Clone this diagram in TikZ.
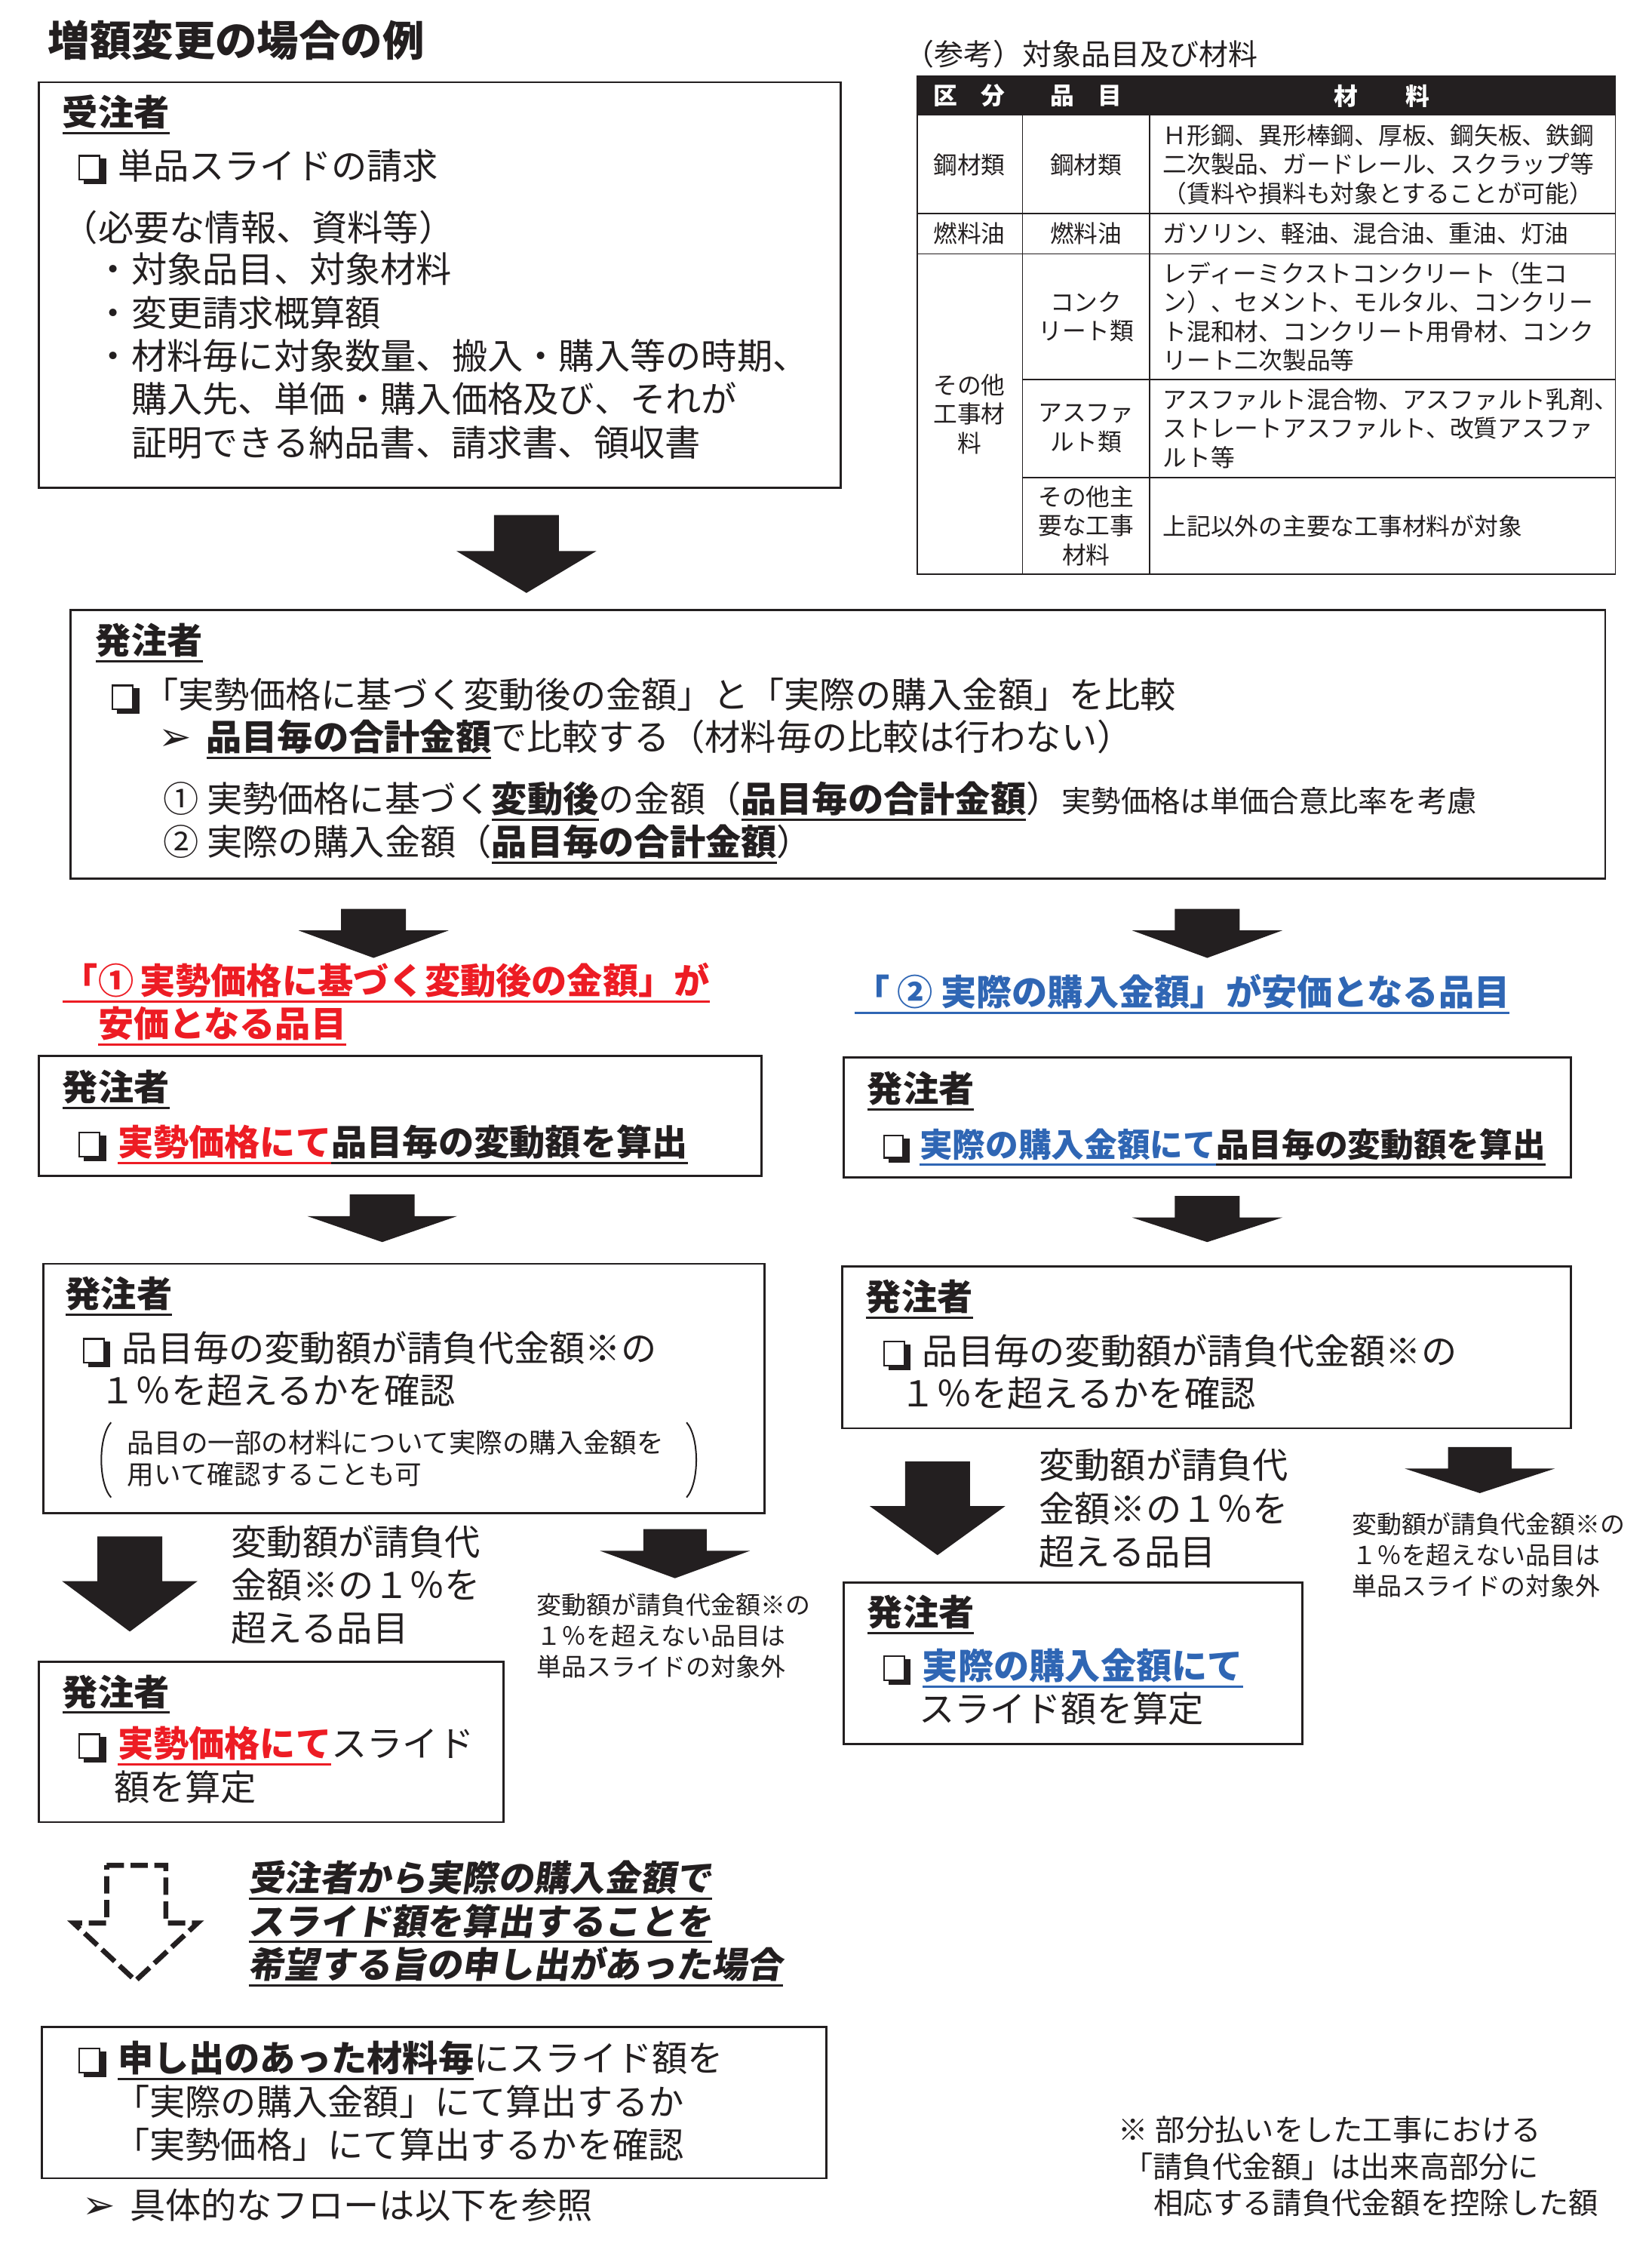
\documentclass[tikz,border=0pt]{standalone}
\usepackage{fontspec}
\setmainfont{Noto Sans CJK JP}
\newfontfamily\symfnt{DejaVu Sans}
\newfontfamily\jpslant[FakeSlant=0.15]{Noto Sans CJK JP}
\usetikzlibrary{fit,calc}

\definecolor{ink}{RGB}{35,31,32}
\definecolor{slidered}{RGB}{237,28,36}
\definecolor{slideblue}{RGB}{47,102,180}

\newcommand\fbody{\fontsize{14.06}{17.07}\selectfont}
\newcommand\ftitle{\fontsize{16.5}{20}\selectfont}
\newcommand\fcap{\fontsize{11.6}{14}\selectfont}
\newcommand\ftab{\fontsize{9.45}{11.4}\selectfont}
\newcommand\fsmall{\fontsize{9.8}{12.24}\selectfont}
\newcommand\fpart{\fontsize{10.6}{12.5}\selectfont}
\newcommand\fnote{\fontsize{11.7}{14.5}\selectfont}
\newcommand\undl[1]{\setbox0\hbox{#1}\rlap{\rule[-3.4pt]{\wd0}{0.9pt}}\box0}
% shadowed check box
\newcommand\chk{\makebox[0.88em][l]{\textcolor{ink}{\rlap{\hspace{2.2pt}\raisebox{-2.2pt}{\rule{\dimexpr0.52em+1.4pt}{\dimexpr0.62em+1.4pt}}}}%
  {\setlength\fboxsep{0pt}\setlength\fboxrule{0.7pt}\fcolorbox{ink}{white}{\rule{0pt}{0.62em}\hspace{0.52em}}}}}
\newcommand\pointer{{\symfnt\bfseries\fontsize{15.5}{17}\selectfont ➢}}
\newcommand\blockarrow[6]{\fill[arrowfill] ({#1-#3},#2) -- ({#1+#3},#2) -- ({#1+#3},#4)
  -- ({#1+#5},#4) -- (#1,#6) -- ({#1-#5},#4) -- ({#1-#3},#4) -- cycle;}

\begin{document}
\begin{tikzpicture}[
  x=0.02cm, y=-0.02cm,
  % multi-line nodes sit on the baseline of their last line
  txt/.style={anchor=base west, inner sep=0pt, align=left, font=\fbody, text=ink},
  head/.style={txt, font=\fbody\bfseries},
  box/.style={draw=ink, line width=0.8pt, inner sep=0pt, fit={#1}},
  arrowfill/.style={fill=ink},
  tabline/.style={draw=ink, line width=0.5pt},
  thead/.style={inner sep=0pt, font=\ftab\bfseries, text=white},
  tcell/.style={inner sep=0pt, align=center, font=\ftab, text=ink},
  tmat/.style={inner sep=0pt, anchor=west, align=left, font=\ftab, text=ink},
]
  \useasboundingbox (0,0) rectangle (1145,1568);

  % Title
  \node[txt, font=\ftitle\bfseries] (title) at (33,39) {増額変更の場合の例};

  % Contractor request
  \node[box={(27,57)(583,338)}] (jbox) {};
  \node[head] (jhead) at (43,87) {\undl{受注者}};
  \node[txt] (jreq) at (54,124) {\chk\ 単品スライドの請求};
  \node[txt] (jinfo) at (43,167) {（必要な情報、資料等）};
  \node[txt] (jlist) at (66,316) {・対象品目、対象材料\\・変更請求概算額\\
    ・材料毎に対象数量、搬入・購入等の時期、\\　購入先、単価・購入価格及び、それが\\
    　証明できる納品書、請求書、領収書};

  % Reference table
  \node[txt, font=\fcap] (tabcap) at (627,45) {（参考）対象品目及び材料};
  \fill[ink] (636,53) rectangle (1120,80);
  \draw[tabline] (636,53) rectangle (1120,398);
  \draw[tabline] (709,80) -- (709,398) (797,80) -- (797,398);
  \draw[tabline] (636,148) -- (1120,148) (636,176) -- (1120,176)
    (709,263) -- (1120,263) (709,331) -- (1120,331);
  \node[thead] (hkubun) at (672,66.5) {区　分};
  \node[thead] (hhinmoku) at (753,66.5) {品　目};
  \node[thead] (hzairyo) at (958,66.5) {材　　料};
  \node[tcell] (steel1) at (672,114) {鋼材類};
  \node[tcell] (steel2) at (753,114) {鋼材類};
  \node[tmat] (steel3) at (806,114) {Ｈ形鋼、異形棒鋼、厚板、鋼矢板、鉄鋼\\
    二次製品、ガードレール、スクラップ等\\（賃料や損料も対象とすることが可能）};
  \node[tcell] (fuel1) at (672,162) {燃料油};
  \node[tcell] (fuel2) at (753,162) {燃料油};
  \node[tmat] (fuel3) at (806,162) {ガソリン、軽油、混合油、重油、灯油};
  \node[tcell] (other1) at (672,287) {その他\\工事材\\料};
  \node[tcell] (conc2) at (753,219.5) {コンク\\リート類};
  \node[tmat] (conc3) at (806,219.5) {レディーミクストコンクリート（生コ\\
    ン）、セメント、モルタル、コンクリー\\ト混和材、コンクリート用骨材、コンク\\リート二次製品等};
  \node[tcell] (asph2) at (753,297) {アスファ\\ルト類};
  \node[tmat] (asph3) at (806,297) {アスファルト混合物、アスファルト乳剤、\\
    ストレートアスファルト、改質アスファ\\ルト等};
  \node[tcell] (main2) at (753,364.5) {その他主\\要な工事\\材料};
  \node[tmat] (main3) at (806,364.5) {上記以外の主要な工事材料が対象};

  \blockarrow{365}{357}{22.5}{382}{48.5}{411}

  % Client compares
  \node[box={(49,423)(1113,609)}] (hbox) {};
  \node[head] (hhead) at (66,453) {\undl{発注者}};
  \node[txt] (hcmp) at (77,491) {\chk「実勢価格に基づく変動後の金額」と「実際の購入金額」を比較};
  \node[txt] (hsum) at (110,520) {\pointer\hspace{0.4em}\textbf{\undl{品目毎の合計金額}}で比較する（材料毎の比較は行わない）};
  \node[txt] (hone) at (113,563) {①\hspace{3pt}実勢価格に基づく\textbf{\undl{変動後}}の金額（\textbf{\undl{品目毎の合計金額}}）{\fnote 実勢価格は単価合意比率を考慮}};
  \node[txt] (htwo) at (113,593) {②\hspace{3pt}実際の購入金額（\textbf{\undl{品目毎の合計金額}}）};

  \blockarrow{259}{630}{22.5}{645}{52}{664}
  \blockarrow{837}{630}{22.5}{645}{52}{664}

  % Two branches
  \node[txt, font=\fbody\bfseries, text=slidered] (redlbl) at (43,719)
    {\undl{「①\,実勢価格に基づく変動後の金額」が}\\　\undl{安価となる品目}};
  \node[txt, font=\fbody\bfseries, text=slideblue] (bluelbl) at (592,697)
    {\undl{「\hspace{3pt}②\hspace{3pt}実際の購入金額」が安価となる品目}};

  \node[box={(27,732)(528,815)}] (lbox1) {};
  \node[head] (lhead1) at (43,763) {\undl{発注者}};
  \node[txt] (lcalc) at (54,801) {\chk\ \textbf{\textcolor{slidered}{\undl{実勢価格にて}}\undl{品目毎の変動額を算出}}};
  \node[box={(585,733)(1089,816)}] (rbox1) {};
  \node[head] (rhead1) at (601,764) {\undl{発注者}};
  \node[txt, font=\fontsize{13}{16}\selectfont] (rcalc) at (612,802) {\chk\ \textbf{\textcolor{slideblue}{\undl{実際の購入金額にて}}\undl{品目毎の変動額を算出}}};

  \blockarrow{265}{828}{22.5}{843}{52}{861}
  \blockarrow{837}{829}{22.5}{844}{52}{861}

  \node[box={(30,876)(530,1049)}] (lbox2) {};
  \node[head] (lhead2) at (45,906) {\undl{発注者}};
  \node[txt] (lcheck) at (57,944) {\chk\ 品目毎の変動額が請負代金額※の};
  \node[txt] (lpct) at (69,973) {１％を超えるかを確認};
  \node[txt, font=\fpart] (lpart) at (88,1029) {品目の一部の材料について実際の購入金額を\\用いて確認することも可};
  \draw[ink, line width=0.6pt] (77,986) .. controls (68,996) and (68,1028) .. (77,1038);
  \draw[ink, line width=0.6pt] (476,986) .. controls (485,996) and (485,1028) .. (476,1038);
  \node[box={(584,878)(1089,990)}] (rbox2) {};
  \node[head] (rhead2) at (600,908) {\undl{発注者}};
  \node[txt] (rcheck) at (612,946) {\chk\ 品目毎の変動額が請負代金額※の};
  \node[txt] (rpct) at (624,975) {１％を超えるかを確認};

  % Over / not over 1%
  \blockarrow{90}{1065}{22.5}{1096}{47}{1131}
  \node[txt] (lover) at (160,1138) {変動額が請負代\\金額※の１％を\\超える品目};
  \blockarrow{468}{1060}{22}{1075}{52}{1094}
  \node[txt, font=\fsmall] (lunder) at (372,1162) {変動額が請負代金額※の\\１％を超えない品目は\\単品スライドの対象外};
  \blockarrow{650}{1013}{22.5}{1044}{47}{1078}
  \node[txt] (rover) at (720,1085) {変動額が請負代\\金額※の１％を\\超える品目};
  \blockarrow{1026}{1003}{22}{1018}{52}{1035}
  \node[txt, font=\fsmall] (runder) at (937,1106) {変動額が請負代金額※の\\１％を超えない品目は\\単品スライドの対象外};

  \node[box={(27,1152)(349,1263)}] (lbox3) {};
  \node[head] (lhead3) at (43,1182) {\undl{発注者}};
  \node[txt] (lslide) at (54,1248) {\chk\ \textbf{\textcolor{slidered}{\undl{実勢価格にて}}}スライド\\　額を算定};
  \node[box={(585,1097)(903,1209)}] (rbox3) {};
  \node[head] (rhead3) at (601,1127) {\undl{発注者}};
  \node[txt] (rslide) at (612,1194) {\chk\ \textbf{\textcolor{slideblue}{\undl{実際の購入金額にて}}}\\　スライド額を算定};

  % Request from contractor
  \draw[ink, line width=2pt, dash pattern=on 0.24cm off 0.09cm]
    (74,1293) -- (115,1293) -- (115,1333) -- (137,1333) -- (94,1373)
    -- (51,1333) -- (74,1333) -- cycle;
  \node[txt, font=\fbody\jpslant\bfseries] (wish) at (172,1371)
    {\undl{受注者から実際の購入金額で}\\\undl{スライド額を算出することを}\\\undl{希望する旨の申し出があった場合}};

  \node[box={(29,1405)(573,1510)}] (reqbox) {};
  \node[txt] (req) at (54,1496) {\chk\ \textbf{\undl{申し出のあった材料毎}}にスライド額を\\
    　「実際の購入金額」にて算出するか\\　「実勢価格」にて算出するかを確認};
  \node[txt] (flow) at (57,1538) {\pointer\hspace{0.4em}具体的なフローは以下を参照};

  % Footnote
  \node[txt, font=\fnote] (footnote) at (775,1535) {※\hspace{3pt}部分払いをした工事における\\
    \hspace{2pt}「請負代金額」は出来高部分に\\\hspace{14pt}相応する請負代金額を控除した額};
\end{tikzpicture}
\end{document}
